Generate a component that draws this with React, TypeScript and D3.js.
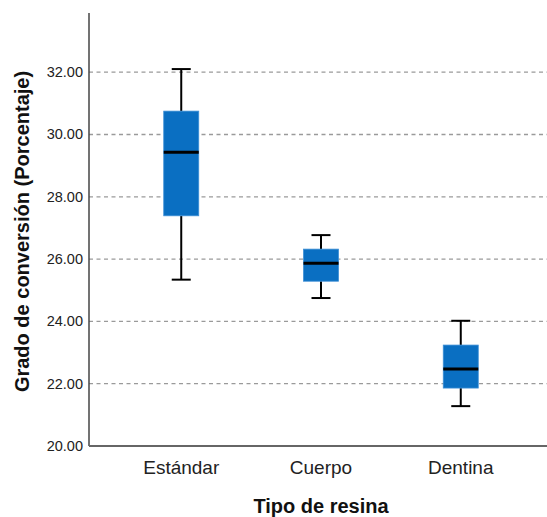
import React from "react";
import * as d3 from "d3";

const categories = ["Estándar", "Cuerpo", "Dentina"];
const whiskerLow = [25.34, 24.75, 21.28];
const q1 = [27.39, 25.29, 21.86];
const median = [29.43, 25.87, 22.47];
const q3 = [30.75, 26.32, 23.24];
const whiskerHigh = [32.1, 26.77, 24.02];
const yTicks = [20, 22, 24, 26, 28, 30, 32];

const W = 547;
const H = 517;
const left = 89;
const top = 13;
const bottom = 446;
const right = 547;
const font = "'Liberation Sans', Arial, sans-serif";

export default function App() {
  const y = d3.scaleLinear().domain([20, 33.9]).range([bottom, top]);
  const x = d3.scalePoint<string>().domain(categories).range([left, 553]).padding(0.66);
  const boxW = 35;
  const capW = 19;

  return (
    <svg width={W} height={H} style={{ position: "absolute", left: 0, top: 0, background: "#fff" }}>
      {/* grid */}
      {yTicks.filter((t) => t > 20).map((t) => (
        <line key={t} x1={left} x2={right} y1={y(t)} y2={y(t)} stroke="#9a9a9a" strokeWidth={1.3} strokeDasharray="4,3.5" />
      ))}
      {/* tick labels */}
      {yTicks.map((t) => (
        <text key={t} x={83} y={y(t) + 5} textAnchor="end" fontSize={14.5} fontFamily={font} fill="#222">
          {t.toFixed(2)}
        </text>
      ))}
      {/* axes */}
      <line x1={left} x2={left} y1={top} y2={bottom} stroke="#444" strokeWidth={1.5} />
      <line x1={left} x2={right} y1={bottom} y2={bottom} stroke="#666" strokeWidth={2} />

      {categories.map((c, i) => {
        const cx = x(c) as number;
        return (
          <g key={c}>
            <line x1={cx} x2={cx} y1={y(whiskerHigh[i])} y2={y(q3[i])} stroke="#000" strokeWidth={2} />
            <line x1={cx} x2={cx} y1={y(q1[i])} y2={y(whiskerLow[i])} stroke="#000" strokeWidth={2} />
            <line x1={cx - capW / 2} x2={cx + capW / 2} y1={y(whiskerHigh[i])} y2={y(whiskerHigh[i])} stroke="#000" strokeWidth={2} />
            <line x1={cx - capW / 2} x2={cx + capW / 2} y1={y(whiskerLow[i])} y2={y(whiskerLow[i])} stroke="#000" strokeWidth={2} />
            <rect x={cx - boxW / 2} y={y(q3[i])} width={boxW} height={y(q1[i]) - y(q3[i])} fill="#0a6fc2" stroke="#3d8fd6" strokeWidth={0.8} />
            <line x1={cx - boxW / 2} x2={cx + boxW / 2} y1={y(median[i])} y2={y(median[i])} stroke="#000" strokeWidth={3} />
            <text x={cx} y={474} textAnchor="middle" fontSize={19} fontFamily={font} fill="#222">
              {c}
            </text>
          </g>
        );
      })}

      <text x={(x("Cuerpo") as number)} y={513} textAnchor="middle" fontSize={20} fontWeight="bold" fontFamily={font} fill="#111">
        Tipo de resina
      </text>
      <text
        transform={`translate(29, ${(top + bottom) / 2 + 2}) rotate(-90)`}
        textAnchor="middle"
        fontSize={20}
        fontWeight="bold"
        fontFamily={font}
        fill="#111"
      >
        Grado de conversión (Porcentaje)
      </text>
    </svg>
  );
}
